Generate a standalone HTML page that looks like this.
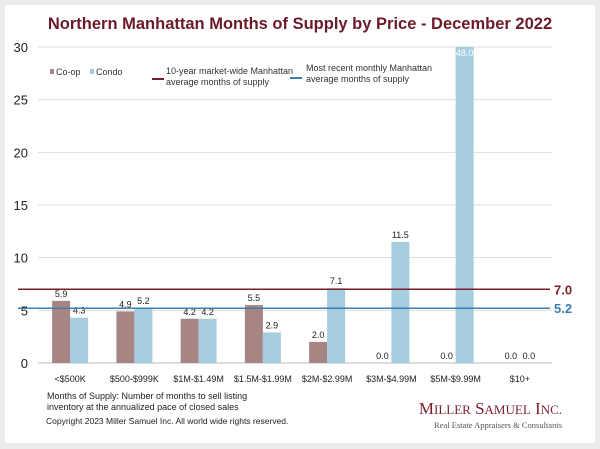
<!DOCTYPE html>
<html><head><meta charset="utf-8"><style>
body{margin:0;background:#ececec;font-family:"Liberation Sans",sans-serif}
#card{position:absolute;left:5px;top:5px;width:590px;height:438px;background:#fff}
</style></head><body>
<div id="card"></div>
<svg id="c" width="600" height="449" style="position:absolute;left:0;top:0" font-family="Liberation Sans, sans-serif">
<text x="300" y="29" text-anchor="middle" font-size="16.5" font-weight="bold" fill="#6b1a2a">Northern Manhattan Months of Supply by Price - December 2022</text>
<g>
<rect x="50" y="69" width="4" height="5" fill="#a88585"/>
<text x="56" y="75" font-size="9" fill="#333">Co-op</text>
<rect x="90" y="69" width="4" height="5" fill="#a6cce0"/>
<text x="96" y="75" font-size="9" fill="#333">Condo</text>
<line x1="152" y1="79" x2="164" y2="79" stroke="#7a1e2c" stroke-width="2"/>
<text x="166" y="74" font-size="9" fill="#333"><tspan x="166">10-year market-wide Manhattan</tspan><tspan x="166" dy="11">average months of supply</tspan></text>
<line x1="290" y1="78" x2="302" y2="78" stroke="#3d7fb0" stroke-width="2"/>
<text x="306" y="71" font-size="9" fill="#333"><tspan x="306">Most recent monthly Manhattan</tspan><tspan x="306" dy="11">average months of supply</tspan></text>
</g>
<g id="plot"></g>
<text x="47" y="399" font-size="9" fill="#222"><tspan x="47">Months of Supply: Number of months to sell listing</tspan><tspan x="47" dy="11">inventory at the annualized pace of closed sales</tspan></text>
<text x="46" y="424" font-size="8.5" fill="#222">Copyright 2023 Miller Samuel Inc.  All world wide rights reserved.</text>
<text x="562" y="414" text-anchor="end" font-family="Liberation Serif, serif" font-size="17" fill="#7a1e2c">M<tspan font-size="13">ILLER</tspan> S<tspan font-size="13">AMUEL</tspan> I<tspan font-size="13">NC.</tspan></text>
<text x="562" y="428" text-anchor="end" font-family="Liberation Serif, serif" font-size="8.5" fill="#555">Real Estate Appraisers &amp; Consultants</text>
</svg>
<script>
const categories=["<$500K","$500-$999K","$1M-$1.49M","$1.5M-$1.99M","$2M-$2.99M","$3M-$4.99M","$5M-$9.99M","$10+"];
const coop=[5.9,4.9,4.2,5.5,2.0,0.0,0.0,0.0];
const condo=[4.3,5.2,4.2,2.9,7.1,11.5,48.0,0.0];
const yTicks=[0,5,10,15,20,25,30];
const tenYear=7.0, recent=5.2;
const X0=38,X1=552,Y0=363,Y1=47,YMAX=30;
const ns="http://www.w3.org/2000/svg",g=document.getElementById('plot');
const y=v=>Y0-(Math.min(v,YMAX)/YMAX)*(Y0-Y1);
const bw=(X1-X0)/categories.length;
const cx=i=>X0+bw*(i+0.5);
function mk(t,a,txt){const e=document.createElementNS(ns,t);for(const k in a)e.setAttribute(k,a[k]);if(txt!=null)e.textContent=txt;g.appendChild(e);return e;}
yTicks.forEach(t=>{
 const l=mk('line',{x1:X0,x2:X1,y1:y(t),y2:y(t),stroke:t==0?'#bbb':'#ddd','stroke-width':1});
 
 
 const tx=mk('text',{x:28,y:y(t)+5,'text-anchor':'end','font-size':13,fill:'#222'},t);
 
 
});
categories.forEach((c,i)=>{
 const w=18;
 const b1=mk('rect',{x:cx(i)-w,y:y(coop[i]),width:w,height:Y0-y(coop[i]),fill:'#a88585'});
 
 
 const b2=mk('rect',{x:cx(i),y:y(condo[i]),width:w,height:Y0-y(condo[i]),fill:'#a6cce0'});
 
 
 const l1=mk('text',{x:cx(i)-w/2,y:y(coop[i])-4,'text-anchor':'middle','font-size':9,fill:'#222'},coop[i].toFixed(1));
 
 
 const over=condo[i]>YMAX;
 const l2=mk('text',{x:cx(i)+w/2,y:over?y(condo[i])+9:y(condo[i])-4,'text-anchor':'middle','font-size':9,fill:over?'#fff':'#222'},condo[i].toFixed(1));
 
 
 const xl=mk('text',{x:cx(i),y:382,'text-anchor':'middle','font-size':9,fill:'#222'},c);
 
 
});
[[tenYear,'#7a1e2c','ten-year'],[recent,'#3d7fb0','recent']].forEach(([v,col,n])=>{
 const l=mk('line',{x1:18,x2:550,y1:y(v),y2:y(v),stroke:col,'stroke-width':1.5});
 
 
 const t=mk('text',{x:554,y:y(v)+5,'font-size':13,'font-weight':'bold',fill:col},v.toFixed(1));
 
 
});
</script>
</body></html>
